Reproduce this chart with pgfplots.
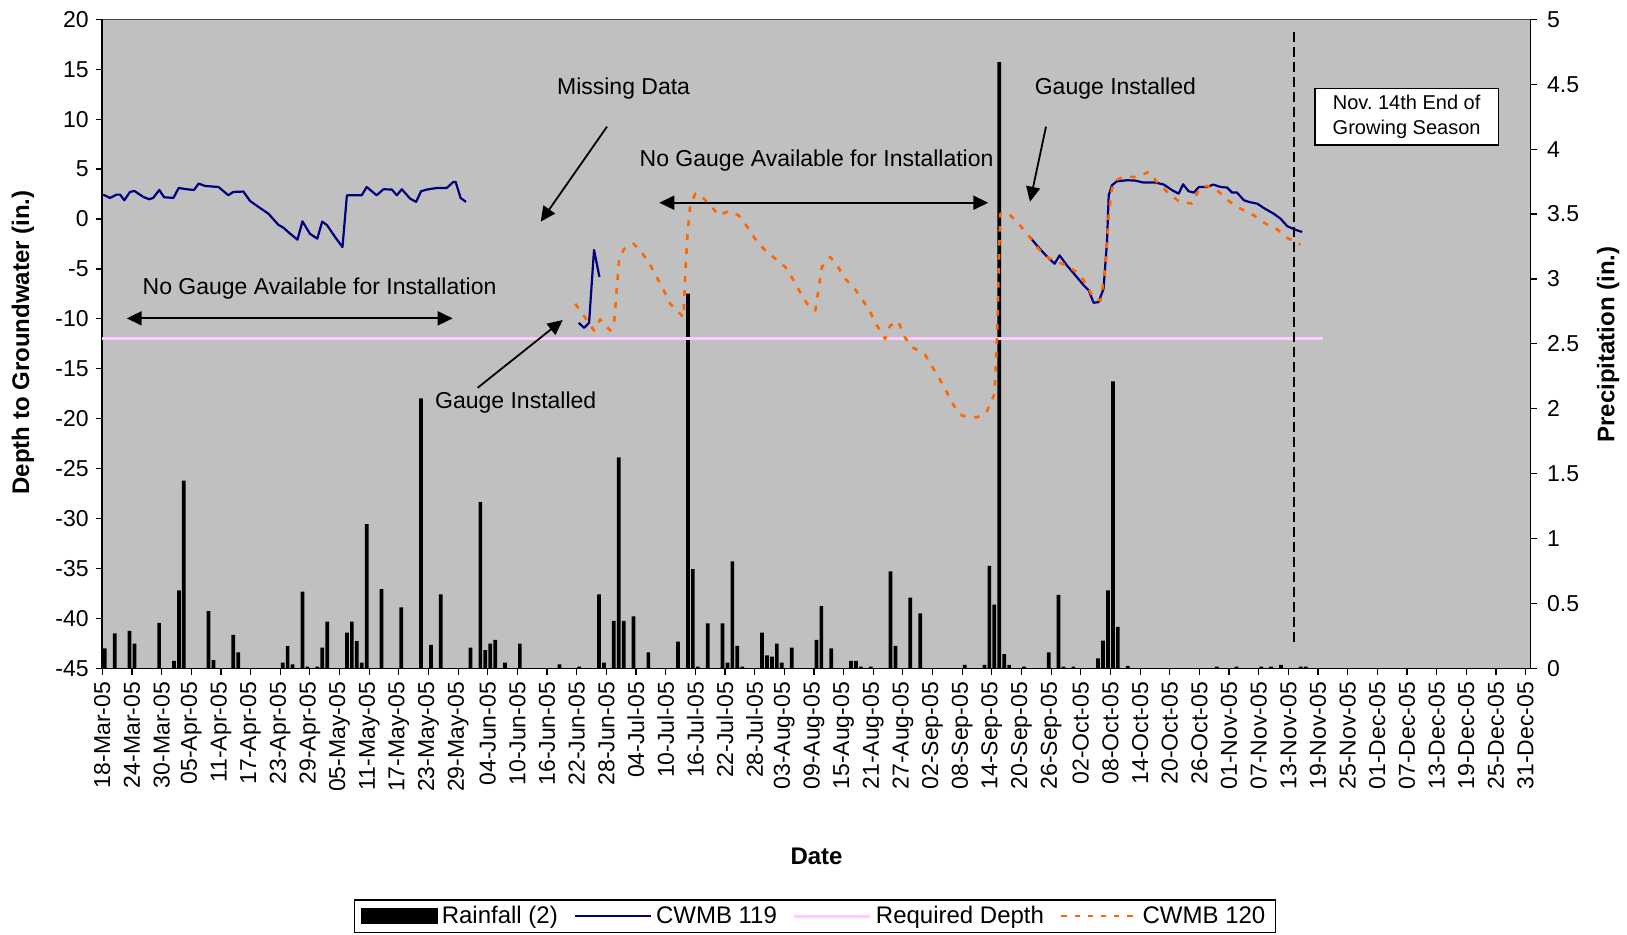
\documentclass[border=0pt]{standalone}
\usepackage{pgfplots}
\pgfplotsset{compat=1.18}
\usepackage{fontspec}
\setmainfont{Liberation Sans}
\frenchspacing
\usetikzlibrary{arrows.meta}
\definecolor{bggray}{RGB}{192,192,192}
\definecolor{navy}{RGB}{0,0,128}
\definecolor{reqpink}{RGB}{255,204,255}
\definecolor{orng}{RGB}{255,102,0}
\newcommand{\tickfont}{\fontsize{11.5}{13}\selectfont}
\newcommand{\labfont}{\fontsize{12}{14}\selectfont}
\newcommand{\annfont}{\fontsize{11.5}{13}\selectfont}
\tikzset{dblarrow/.style={{Triangle[length=7.5pt,width=7pt]}-{Triangle[length=7.5pt,width=7pt]}, line width=0.9pt},
         sglarrow/.style={-{Triangle[length=7.5pt,width=7pt]}, line width=0.9pt}}
\begin{document}
\begin{tikzpicture}
\useasboundingbox (-51.15pt,-132.85pt) rectangle (762.35pt,334.15pt);
% ---------- rainfall (right axis) ----------
\begin{axis}[
  at={(0,0)}, anchor=south west,
  scale only axis, width=714.1pt, height=324.5pt,
  xmin=0, xmax=289, ymin=0, ymax=5,
  axis x line=none,
  axis y line*=right,
  axis line style={-, black, line width=0.8pt},
  axis background/.style={fill=bggray},
  ytick={0,0.5,1,1.5,2,2.5,3,3.5,4,4.5,5},
  yticklabels={0,0.5,1,1.5,2,2.5,3,3.5,4,4.5,5},
  tick align=outside,
  major tick length=3.3pt,
  tick style={black, line width=0.6pt},
  yticklabel style={font=\tickfont, xshift=1.5pt},
  ybar, bar width=1.85pt,
]
\addplot[fill=black, draw=none] table {
x y
0.5 0.154
2.5 0.27
5.5 0.288
6.5 0.19
11.5 0.35
14.5 0.057
15.5 0.60
16.5 1.445
21.5 0.44
22.5 0.064
26.5 0.257
27.5 0.123
36.5 0.044
37.5 0.17
38.5 0.03
40.5 0.59
41.5 0.013
43.5 0.013
44.5 0.16
45.5 0.36
49.5 0.275
50.5 0.36
51.5 0.21
52.5 0.044
53.5 1.11
56.5 0.61
60.5 0.47
64.5 2.08
66.5 0.18
68.5 0.57
74.5 0.16
76.5 1.28
77.5 0.14
78.5 0.19
79.5 0.22
81.5 0.044
84.5 0.19
92.5 0.03
96.5 0.013
100.5 0.57
101.5 0.044
103.5 0.365
104.5 1.625
105.5 0.365
107.5 0.40
110.5 0.123
116.5 0.206
118.5 2.886
119.5 0.764
120.5 0.013
122.5 0.347
125.5 0.347
126.5 0.044
127.5 0.823
128.5 0.172
129.5 0.013
133.5 0.275
134.5 0.10
135.5 0.09
136.5 0.19
137.5 0.044
139.5 0.16
144.5 0.22
145.5 0.48
147.5 0.154
151.5 0.057
152.5 0.057
153.5 0.013
155.5 0.013
159.5 0.746
160.5 0.172
163.5 0.545
165.5 0.424
174.5 0.026
178.5 0.026
179.5 0.79
180.5 0.49
181.5 4.67
182.5 0.11
183.5 0.026
186.5 0.013
191.5 0.123
193.5 0.566
194.5 0.013
196.5 0.013
201.5 0.077
202.5 0.213
203.5 0.60
204.5 2.21
205.5 0.32
207.5 0.018
225.5 0.013
229.5 0.013
234.5 0.013
236.5 0.013
238.5 0.026
242.5 0.013
243.5 0.013
};
\draw[gray!55!black, line width=0.8pt] (rel axis cs:0,1) -- (rel axis cs:1,1);
\end{axis}
% ---------- depth to groundwater (left axis) ----------
\begin{axis}[
  at={(0,0)}, anchor=south west,
  scale only axis, width=714.1pt, height=324.5pt,
  xmin=0, xmax=289, ymin=-45, ymax=20,
  axis x line*=bottom, axis y line*=left,
  axis line style={-, black, line width=0.8pt},
  xtick={0,6,...,288},
  xticklabels={18-Mar-05,24-Mar-05,30-Mar-05,05-Apr-05,11-Apr-05,17-Apr-05,23-Apr-05,29-Apr-05,05-May-05,11-May-05,17-May-05,23-May-05,29-May-05,04-Jun-05,10-Jun-05,16-Jun-05,22-Jun-05,28-Jun-05,04-Jul-05,10-Jul-05,16-Jul-05,22-Jul-05,28-Jul-05,03-Aug-05,09-Aug-05,15-Aug-05,21-Aug-05,27-Aug-05,02-Sep-05,08-Sep-05,14-Sep-05,20-Sep-05,26-Sep-05,02-Oct-05,08-Oct-05,14-Oct-05,20-Oct-05,26-Oct-05,01-Nov-05,07-Nov-05,13-Nov-05,19-Nov-05,25-Nov-05,01-Dec-05,07-Dec-05,13-Dec-05,19-Dec-05,25-Dec-05,31-Dec-05},
  xticklabel style={rotate=90, anchor=east, font=\tickfont},
  ytick={-45,-40,-35,-30,-25,-20,-15,-10,-5,0,5,10,15,20},
  yticklabels={-45,-40,-35,-30,-25,-20,-15,-10,-5,0,5,10,15,20},
  yticklabel style={font=\tickfont},
  tick align=outside, major tick length=3.3pt,
  tick style={black, line width=0.6pt},
  clip=false,
  legend cell align=left,
  legend style={at={(0.499,-0.4078)}, anchor=south, draw=black, line width=0.6pt,
    fill=white, font=\labfont, legend columns=4, inner xsep=3pt, inner ysep=1pt,
    /tikz/every even column/.append style={column sep=6pt}},
]
\addlegendimage{legend image code/.code={\fill[black] (0pt,-3.6pt) rectangle (38pt,3.6pt);}}
\addlegendentry{Rainfall (2)}
\addlegendimage{legend image code/.code={\draw[navy, line width=1.1pt] (0pt,0pt) -- (38pt,0pt);}}
\addlegendentry{CWMB 119}
\addlegendimage{legend image code/.code={\draw[reqpink, line width=1.5pt] (0pt,0pt) -- (38pt,0pt);}}
\addlegendentry{Required Depth}
\addlegendimage{legend image code/.code={\draw[orng, line width=1.3pt, dash pattern=on 2.6pt off 4pt] (0pt,0pt) -- (38pt,0pt);}}
\addlegendentry{CWMB 120}

% CWMB 119 (three measured stretches)
\addplot[navy, line width=1.1pt, line join=round, forget plot] table {
x y
0.2 2.44
1.56 2.11
2.9 2.44
3.6 2.44
4.46 1.88
5.6 2.71
6.5 2.81
8.3 2.21
9.5 1.98
10.3 2.11
11.54 2.91
12.5 2.18
14.4 2.11
15.46 3.11
17.08 2.98
18.56 2.91
19.5 3.55
20.8 3.31
23.5 3.21
25.5 2.38
26.5 2.71
28.55 2.75
29.9 1.81
31.9 1.11
33.6 0.54
35.6 -0.57
36.65 -0.87
38.0 -1.47
39.5 -2.07
40.5 -0.23
42.0 -1.47
43.5 -1.97
44.5 -0.26
45.5 -0.63
47.1 -1.80
48.6 -2.81
49.5 2.38
52.5 2.38
53.5 3.21
55.5 2.38
56.9 2.98
58.6 2.95
59.6 2.38
60.6 2.98
62.3 2.04
63.5 1.71
64.5 2.78
65.7 2.95
67.7 3.11
69.7 3.11
71.06 3.72
71.5 3.72
72.5 2.11
73.6 1.71
};
\addplot[navy, line width=1.1pt, line join=round, forget plot] table {
x y
96.4 -10.4
97.5 -10.9
98.5 -10.4
99.5 -3.1
100.6 -5.8
};
\addplot[navy, line width=1.1pt, line join=round, forget plot] table {
x y
187.7 -1.80
189.1 -2.64
190.8 -3.58
192.7 -4.48
193.7 -3.64
195.2 -4.65
197.2 -5.82
198.6 -6.65
199.6 -7.15
200.6 -8.39
201.6 -8.32
202.6 -6.99
203.3 -2.30
203.65 2.38
204.3 3.38
205.3 3.78
207.4 3.88
209.0 3.85
210.7 3.65
213.1 3.65
214.8 3.45
216.5 2.88
217.8 2.54
218.7 3.48
219.8 2.78
220.9 2.65
221.9 3.21
223.6 3.21
224.8 3.45
226.3 3.21
227.6 3.15
228.6 2.65
229.6 2.65
231.0 1.88
232.0 1.71
233.7 1.54
235.0 1.11
237.0 0.54
238.4 0.04
239.8 -0.73
241.4 -1.07
242.8 -1.30
};
% Required depth
\addplot[reqpink, line width=1.5pt, forget plot] table {
x y
0 -12
247 -12
};
% CWMB 120
\addplot[orng, line width=1.3pt, dash pattern=on 2.8pt off 4.2pt, line join=round, forget plot] table {
x y
95.7 -8.49
97.4 -9.66
99.5 -11.17
100.75 -10.06
102.8 -11.17
103.6 -10.16
104.1 -6.99
104.6 -3.98
105.6 -2.97
107.5 -2.47
109.2 -3.37
110.9 -4.65
112.2 -5.82
113.6 -7.15
114.9 -8.49
116.6 -9.33
117.6 -9.83
117.95 -5.65
118.4 -1.64
118.97 1.37
120.0 2.54
121.7 2.04
123.35 1.21
124.7 0.37
126.7 0.77
128.75 0.37
130.8 -0.97
132.5 -2.30
134.15 -3.14
136.2 -3.98
138.2 -4.81
139.9 -6.15
141.2 -7.32
142.6 -8.49
144.3 -9.16
145.15 -6.32
145.6 -4.81
147.3 -3.81
148.7 -4.65
150.3 -5.98
152.0 -6.82
153.7 -7.99
155.4 -9.33
156.75 -10.67
158.4 -12.0
159.45 -10.67
161.1 -10.26
162.15 -11.67
163.8 -12.84
165.2 -13.17
166.5 -13.61
168.2 -15.01
169.6 -16.18
170.9 -17.35
172.3 -18.69
174.0 -19.70
177.0 -19.86
178.9 -19.36
180.4 -17.69
180.7 -16.02
181.05 -11.67
181.25 -8.0
181.5 -2.97
181.7 0.54
183.4 0.54
185.4 -0.47
187.5 -1.70
189.1 -2.81
191.2 -3.81
193.2 -4.31
195.2 -4.65
197.6 -5.48
199.3 -6.65
200.6 -7.99
202.0 -8.16
203.0 -4.98
203.65 0.37
204.3 3.05
205.0 3.88
206.7 4.22
209.4 4.22
211.75 4.72
213.4 3.72
215.5 2.71
217.8 1.78
220.5 1.54
222.2 3.21
223.6 3.31
225.6 2.88
227.9 1.81
230.3 1.04
233.0 0.37
235.4 -0.47
237.7 -1.03
239.8 -1.90
242.45 -2.57
};
% end of growing season
\draw[black, line width=1pt, dash pattern=on 5pt off 2.5pt] (axis cs:241.14,18.76) -- (axis cs:241.14,-42.83);
% annotations
\node[font=\annfont] at (axis cs:43.97,-6.94) {No Gauge Available for Installation};
\draw[dblarrow] (axis cs:4.94,-9.95) -- (axis cs:70.9,-9.95);
\node[font=\annfont] at (axis cs:83.66,-18.43) {Gauge Installed};
\draw[sglarrow] (axis cs:75.96,-16.9) -- (axis cs:93.16,-10.12);
\node[font=\annfont] at (axis cs:105.48,13.1) {Missing Data};
\draw[sglarrow] (axis cs:102.13,9.25) -- (axis cs:88.71,-0.27);
\node[font=\annfont] at (axis cs:144.54,5.82) {No Gauge Available for Installation};
\draw[dblarrow] (axis cs:112.71,1.63) -- (axis cs:179.28,1.63);
\node[font=\annfont] at (axis cs:205.0,13.1) {Gauge Installed};
\draw[sglarrow] (axis cs:190.96,9.25) -- (axis cs:187.72,1.73);
\node[draw=black, fill=white, line width=0.6pt, align=center, minimum width=91.65pt,
  minimum height=28.35pt, inner sep=1pt, font=\fontsize{10}{12.5}\selectfont]
  at (axis cs:263.94,10.25) {Nov. 14th End of\\Growing Season};
% axis titles
\node[rotate=90, font=\bfseries\labfont] at (rel axis cs:-0.05566,0.502) {Depth to Groundwater (in.)};
\node[rotate=90, font=\bfseries\labfont] at (rel axis cs:1.0543,0.499) {Precipitation (in.)};
\node[font=\bfseries\labfont] at (rel axis cs:0.5001,-0.2895) {Date};
\end{axis}
\end{tikzpicture}
\end{document}
